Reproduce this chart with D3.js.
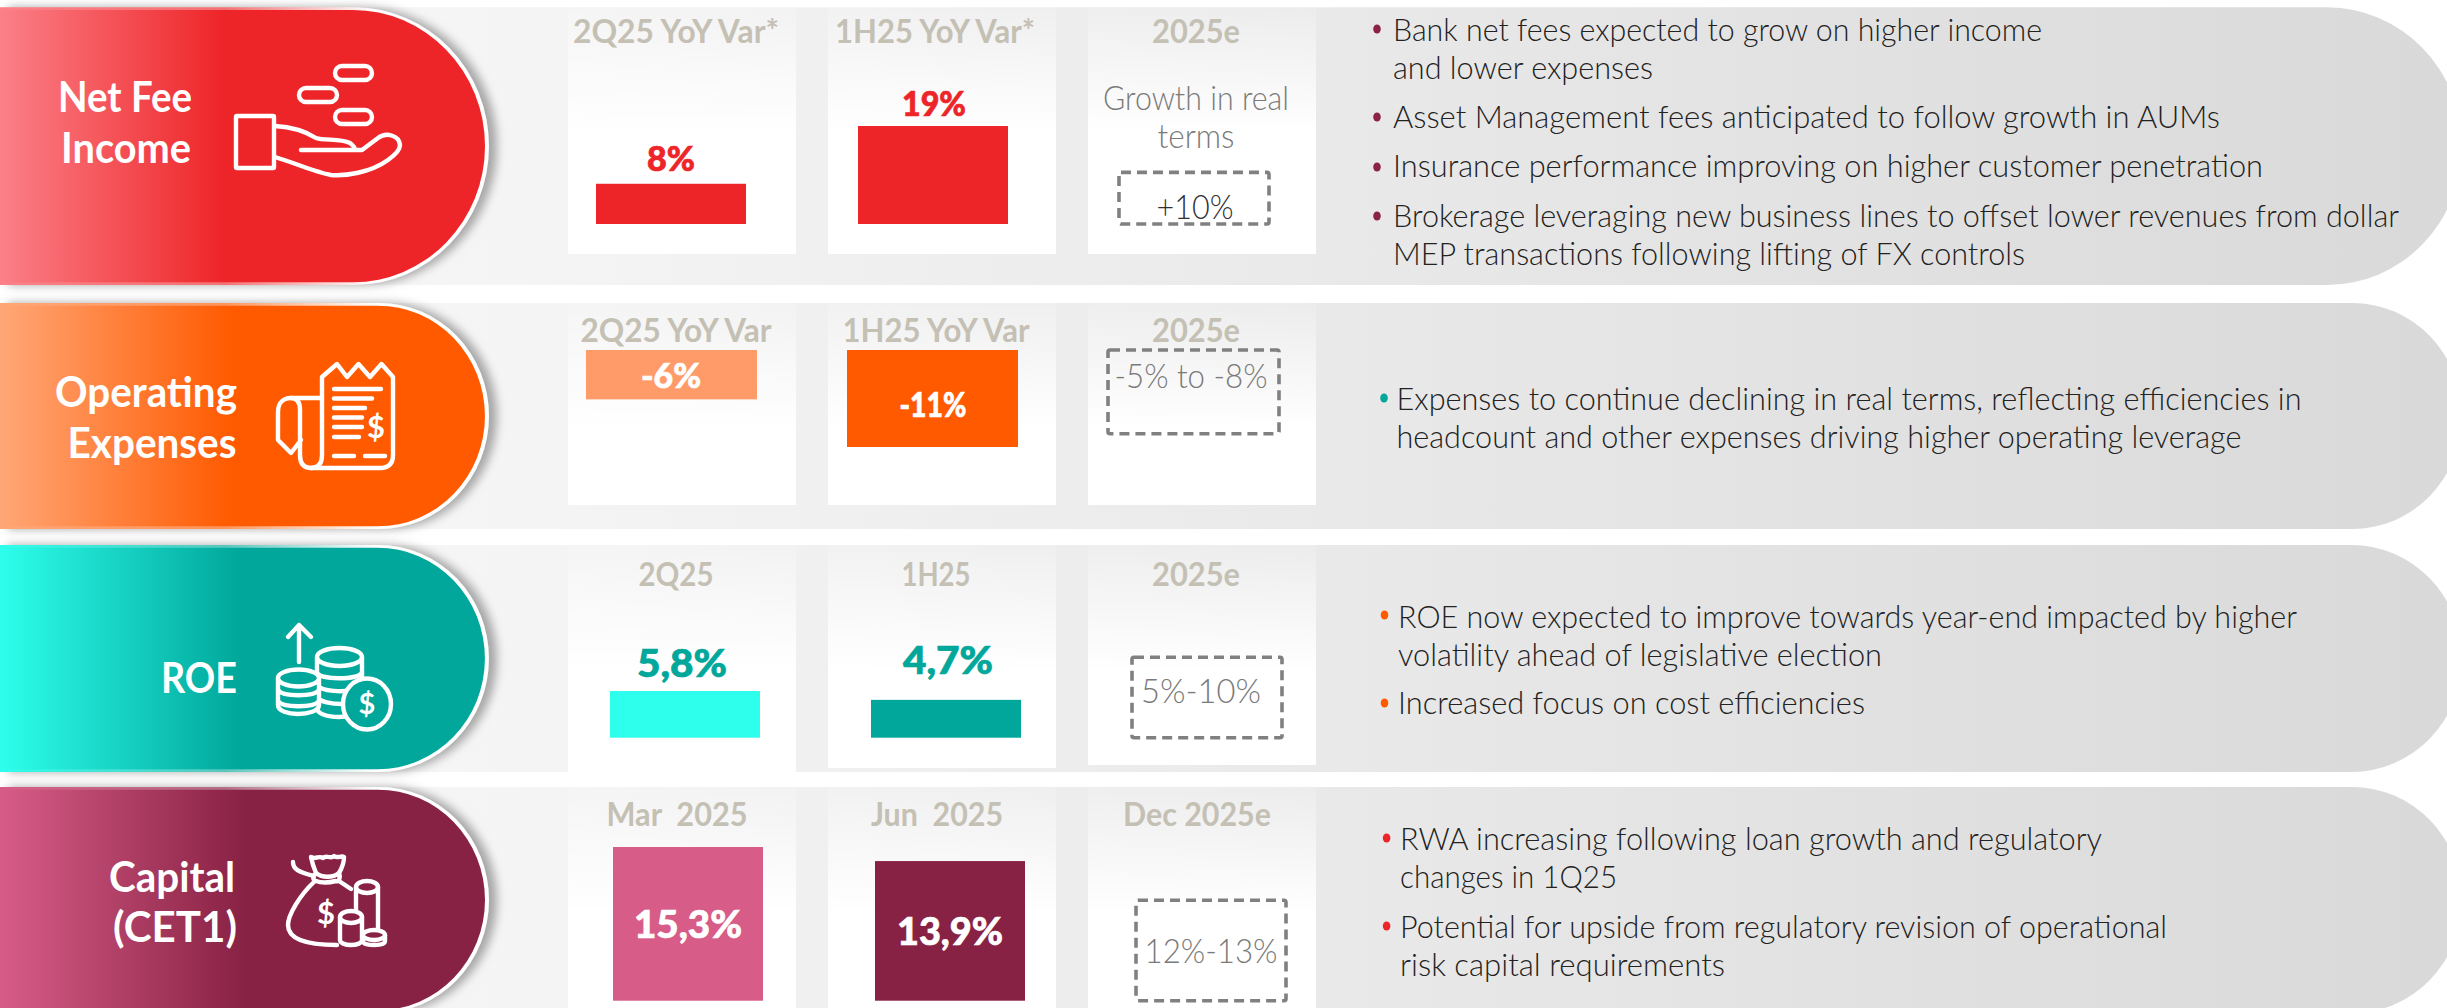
<!DOCTYPE html>
<html>
<head>
    <title>Guidance summary</title>
    <meta charset="utf-8">
    <script src="https://d3js.org/d3.v7.min.js"></script>
    <style>
        html, body { margin: 0; padding: 0; background: #fff; overflow: hidden; }
        svg { display: block; }
        text { white-space: pre; font-family: Lato, sans-serif; }
    </style>
</head>
<body>
    <div id="my_dataviz"></div>

    <script>
        // Values
        var rowNames = [["Net Fee", "Income"], ["Operating", "Expenses"], ["ROE"], ["Capital", "(CET1)"]];
        var colHeaders = [
            ["2Q25 YoY Var*", "1H25 YoY Var*", "2025e"],
            ["2Q25 YoY Var", "1H25 YoY Var", "2025e"],
            ["2Q25", "1H25", "2025e"],
            ["Mar  2025", "Jun  2025", "Dec 2025e"]
        ];
        var barValues = [[7.8, 19], [-5.6, -11], [5.8, 4.7], [15.3, 13.9]];
        var barLabels = [["8%", "19%"], ["-6%", "-11%"], ["5,8%", "4,7%"], ["15,3%", "13,9%"]];
        var targetValues = [10, -9.5, 10, 10];
        var targetLabels = ["+10%", "-5% to -8%", "5%-10%", "12%-13%"];
        var targetNote = ["Growth in real", "terms"];
        var bulletTexts = [
            [["Bank net fees expected to grow on higher income", "and lower expenses"],
             ["Asset Management fees anticipated to follow growth in AUMs"],
             ["Insurance performance improving on higher customer penetration"],
             ["Brokerage leveraging new business lines to offset lower revenues from dollar", "MEP transactions following lifting of FX controls"]],
            [["Expenses to continue declining in real terms, reflecting efficiencies in", "headcount and other expenses driving higher operating leverage"]],
            [["ROE now expected to improve towards year-end impacted by higher", "volatility ahead of legislative election"],
             ["Increased focus on cost efficiencies"]],
            [["RWA increasing following loan growth and regulatory", "changes in 1Q25"],
             ["Potential for upside from regulatory revision of operational", "risk capital requirements"]]
        ];

        // Layout
        var width = 2447, height = 1008;
        var rowTop = [7.3, 303, 545, 787];
        var rowBottom = [285, 529, 772, 1013];
        var cardBottom = [[254, 254, 254], [505, 505, 505], [772, 768, 765], [1013, 1013, 1013]];
        var scaleDomain = [[0, 19], [0, -11], [0, 5.8], [0, 15.3]];
        var scaleRange = [[224, 126], [350, 447], [737.7, 691], [1000.7, 847]];
        var barOffset = [[28, 30, 31], [18, 19, 20], [42, 43, 44], [45, 47, 48]];
        var barWidth = [150, 171, 150, 150];
        var mainColor = ["#ee2528", "#ff5a00", "#00a79a", "#882244"];
        var lightColor = ["#fb8088", "#ffa777", "#2efeec", "#d75c87"];
        var barColor = [["#ee2528", "#ee2528"], ["#ff9b68", "#ff5a00"], ["#2efeec", "#00a79a"], ["#d75c87", "#882244"]];
        var labelFill = ["#ee2528", "#ffffff", "#00a79a", "#ffffff"];
        var labelSize = [34, 34, 38, 38];
        var bulletColor = ["#8a2346", "#00a79a", "#ff5a00", "#ee2528"];
        var gradEnd = [224, 232, 240, 245];

        // text: [anchor x, baseline y, width]
        var nameSpec = [
            [[125, 112, 134], [126, 163, 130]],
            [[146, 407, 182], [152, 458, 169]],
            [[199, 693, 76]],
            [[172, 892, 126], [175, 942, 124]]
        ];
        var headerY = [43, 342, 586, 826];
        var headerX = [[676, 935, 1196], [676, 936, 1196], [676, 936, 1196], [677, 937, 1197]];
        var headerW = [[206, 200, 88], [191, 187, 88], [75, 69, 88], [141, 132, 148]];
        var labelSpec = [
            [[671, 171, 48], [934, 116, 64]],
            [[671, 388, 60], [933, 417, 67]],
            [[682, 677, 90], [948, 674, 90]],
            [[688, 938, 108], [950, 945, 106]]
        ];
        var targetSpec = [[1195, 219, 77], [1191, 388, 153], [1201, 703, 120], [1211, 963, 133]];
        var noteSpec = [[1196, 110, 186], [1196, 148, 77]];
        var bulletX = [1377, 1384, 1384.5, 1386.6];
        var textX = [1393, 1396.5, 1398, 1400];
        var bulletY = [[29, 117, 167, 216], [398], [615, 703], [838, 926]];
        var lineY = [[[41, 79], [128], [177], [227, 265]], [[410, 448]], [[628, 666], [714]], [[850, 888], [938, 976]]];
        var lineW = [[[649, 260], [827], [870], [1006, 632]], [[905, 845]], [[899, 484], [467]], [[702, 217], [767, 325]]];

        var columns = d3.scaleBand().domain([0, 1, 2]).range([568, 1316]).paddingInner(32 / 260).paddingOuter(0);
        var yScales = scaleDomain.map(function(d, i) { return d3.scaleLinear().domain(d).range(scaleRange[i]); });

        var svg = d3.select("#my_dataviz").append("svg").attr("width", width).attr("height", height);
        var defs = svg.append("defs");

        var bandGrad = defs.append("linearGradient").attr("id", "bandGrad")
            .attr("gradientUnits", "userSpaceOnUse").attr("x1", 400).attr("x2", 2447).attr("y1", 0).attr("y2", 0);
        bandGrad.append("stop").attr("offset", 0).attr("stop-color", "#f6f6f6");
        bandGrad.append("stop").attr("offset", 0.46).attr("stop-color", "#e9e9e9");
        bandGrad.append("stop").attr("offset", 1).attr("stop-color", "#d9d9d9");

        var shadow = defs.append("filter").attr("id", "pillShadow")
            .attr("filterUnits", "userSpaceOnUse").attr("x", -20).attr("y", -20).attr("width", 620).attr("height", 1100);
        shadow.append("feDropShadow").attr("dx", 8).attr("dy", 0).attr("stdDeviation", 5)
            .attr("flood-color", "#8c8c8c").attr("flood-opacity", 0.75);

        rowTop.forEach(function(top, i) {
            var g = defs.append("linearGradient").attr("id", "pill" + i)
                .attr("gradientUnits", "userSpaceOnUse").attr("x1", 0).attr("x2", gradEnd[i]).attr("y1", 0).attr("y2", 0);
            g.append("stop").attr("offset", 0).attr("stop-color", lightColor[i]);
            g.append("stop").attr("offset", 1).attr("stop-color", mainColor[i]);
            var o = defs.append("linearGradient").attr("id", "edge" + i)
                .attr("gradientUnits", "userSpaceOnUse").attr("x1", 0).attr("x2", 375).attr("y1", 0).attr("y2", 0);
            o.append("stop").attr("offset", 0).attr("stop-color", lightColor[i]);
            o.append("stop").attr("offset", 0.6).attr("stop-color", d3.interpolateRgb(mainColor[i], "#fff")(0.35));
            o.append("stop").attr("offset", 1).attr("stop-color", "#ffffff");
            var c = defs.append("linearGradient").attr("id", "card" + i)
                .attr("gradientUnits", "userSpaceOnUse").attr("x1", 0).attr("x2", 0).attr("y1", top).attr("y2", top + 125);
            c.append("stop").attr("offset", 0).attr("stop-color", "#fff").attr("stop-opacity", 0.12);
            c.append("stop").attr("offset", 1).attr("stop-color", "#fff").attr("stop-opacity", 1);
        });

        // pill with an elliptical right end, x0 is the left edge
        function capsule(x0, right, top, bottom) {
            var ry = (bottom - top) / 2, rx = ry * 0.97;
            return "M" + x0 + "," + top + "H" + (right - rx) + "A" + rx + "," + ry + " 0 0 1 " + (right - rx) + "," + bottom + "H" + x0 + "Z";
        }

        function addText(parent, str, spec, size, weight, fill, anchor) {
            return parent.append("text")
                .attr("x", spec[0]).attr("y", spec[1])
                .attr("text-anchor", anchor || "middle")
                .attr("textLength", spec[2]).attr("lengthAdjust", "spacingAndGlyphs")
                .attr("font-size", size).attr("font-weight", weight).attr("fill", fill)
                .text(str);
        }

        rowNames.forEach(function(name, r) {
            var row = svg.append("g").attr("class", "row");
            var y = yScales[r];

            // grey band
            row.append("path").attr("d", capsule(0, 2462, rowTop[r], rowBottom[r])).attr("fill", "url(#bandGrad)");

            // white cards
            row.selectAll(".card").data([0, 1, 2]).enter().append("rect").attr("class", "card")
                .attr("x", function(c) { return columns(c); })
                .attr("y", rowTop[r])
                .attr("width", columns.bandwidth())
                .attr("height", function(c) { return cardBottom[r][c] - rowTop[r]; })
                .attr("fill", "url(#card" + r + ")");

            // left pill
            row.append("path").attr("d", capsule(0, 489, rowTop[r], rowBottom[r]))
                .attr("fill", "url(#edge" + r + ")").attr("filter", "url(#pillShadow)");
            row.append("path").attr("d", capsule(0, 485, rowTop[r] + 2.7, rowBottom[r] - 2.7))
                .attr("fill", "url(#pill" + r + ")");

            name.forEach(function(line, k) {
                addText(row, line, nameSpec[r][k], 42, 700, "#fff");
            });

            colHeaders[r].forEach(function(h, c) {
                addText(row, h, [headerX[r][c], headerY[r], headerW[r][c]], 32, 700, "#c4c0b4");
            });

            // bars
            row.selectAll(".bar").data(barValues[r]).enter().append("rect").attr("class", "bar")
                .attr("x", function(d, c) { return columns(c) + barOffset[r][c]; })
                .attr("y", function(d) { return Math.min(y(0), y(d)); })
                .attr("width", barWidth[r])
                .attr("height", function(d) { return Math.abs(y(d) - y(0)); })
                .attr("fill", function(d, c) { return barColor[r][c]; });

            barLabels[r].forEach(function(l, c) {
                addText(row, l, labelSpec[r][c], labelSize[r], 900, labelFill[r])
                    .attr("stroke", labelFill[r]).attr("stroke-width", 0.7);
            });

            // dashed target box
            var t0 = y(0), t1 = y(targetValues[r]);
            row.append("rect")
                .attr("x", columns(2) + barOffset[r][2])
                .attr("y", Math.min(t0, t1))
                .attr("width", barWidth[r])
                .attr("height", Math.abs(t1 - t0))
                .attr("rx", 2)
                .attr("fill", "none")
                .attr("stroke", "#808080")
                .attr("stroke-width", 3.6)
                .attr("stroke-dasharray", "10 6");

            addText(row, targetLabels[r], targetSpec[r], 34, 300, r == 0 ? "#303030" : "#7a7a7a");

            // bullets
            bulletTexts[r].forEach(function(lines, b) {
                row.append("ellipse")
                    .attr("cx", bulletX[r]).attr("cy", bulletY[r][b])
                    .attr("rx", 3.8).attr("ry", 4.5)
                    .attr("fill", bulletColor[r]);
                lines.forEach(function(line, k) {
                    addText(row, line, [textX[r], lineY[r][b][k], lineW[r][b][k]], 32, 300, "#222", "start");
                });
            });
        });

        targetNote.forEach(function(line, k) {
            addText(svg, line, noteSpec[k], 34, 300, "#7a7a7a");
        });

        // icons, white line drawings
        var icons = svg.append("g").attr("fill", "none").attr("stroke", "#fff").attr("stroke-width", 4.4)
            .attr("stroke-linecap", "round").attr("stroke-linejoin", "round");

        function ico(d) { return icons.append("path").attr("d", d); }
        function pad(x, y, w, h, r, fill) {
            return icons.append("rect").attr("x", x).attr("y", y).attr("width", w).attr("height", h).attr("rx", r).attr("fill", fill || "none");
        }
        function oval(cx, cy, rx, ry, fill) {
            return icons.append("ellipse").attr("cx", cx).attr("cy", cy).attr("rx", rx).attr("ry", ry).attr("fill", fill || "none");
        }
        function dollar(x, y, size) {
            icons.append("text").attr("x", x).attr("y", y).attr("text-anchor", "middle")
                .attr("font-size", size).attr("font-weight", 700).attr("fill", "#fff").attr("stroke", "none").text("$");
        }

        // hand and coins
        pad(335, 66, 37, 14, 7);
        pad(299, 88, 38, 14, 7);
        pad(335, 110, 37, 14, 7);
        pad(236, 116, 38, 52, 1);
        ico("M275,126C292,127 305,131 316,138C325,141 340,138 350,143C354,146 355,148 355,150M301,150H362L378,138C386,132 399,135 400,145C400,150 395,155 388,160C370,173 345,176 331,175C315,172 295,163 275,157");

        // receipt
        ico("M322,398V377L337,364L347,377L358.5,364L370,377L381.5,364L393,377V455Q393,468 380,468H311Q300,468 300,455V410Q300,398 291,398C284,398 278,402 278,412V440L291,453L301,440");
        ico("M291,398H322V455Q322,468 311,468");
        [[334, 381, 389], [334, 372, 398.5], [334, 365, 408], [334, 362, 417.5], [334, 362, 427], [334, 359, 437], [334, 354, 456], [365, 385, 456]].forEach(function(l) {
            ico("M" + l[0] + "," + l[2] + "H" + l[1]);
        });
        dollar(376, 438, 31);

        // coin stacks with arrow
        ico("M299,662V625M288,637L299,625L311,637");
        ico("M317,657V708C317,714 328,717 339,717C350,717 362,714 362,708V657");
        oval(339.5, 657, 22.5, 9, mainColor[2]);
        ico("M317,673C322,680 356,680 362,673M317,685C322,692 345,692 350,690M317,697C320,702 332,704 342,704");
        ico("M278,678V705C278,711 288,714 298,714C308,714 319,711 319,705V678").attr("fill", mainColor[2]);
        oval(298.5, 678, 20.5, 8.5, mainColor[2]);
        ico("M278,690C283,697 314,697 319,690M278,701C283,708 314,708 319,701");
        oval(367, 704, 24, 25.5, mainColor[2]);
        dollar(367, 714, 29);

        // money bag
        ico("M316,873C313,866 312,862 311,857C316,860 319,855 323,858C327,854 330,860 334,856C338,859 341,855 344,857C344,862 342,868 339,873");
        ico("M316,873C322,878 333,878 339,873C341,877 339,882 336,881C328,883 321,883 316,881C312,880 313,876 316,873");
        ico("M293,862C293,869 298,872 314,876M314,882C300,895 288,915 288,925C288,937 300,945 337,945M339,881L351,889");
        dollar(326, 924, 31);
        ico("M356,887V926M378,887V930");
        oval(367, 887, 11, 6);
        ico("M340,917V940C340,943 345,945 351,945C357,945 362,943 362,940V917").attr("fill", mainColor[3]);
        oval(351, 917, 11, 6, mainColor[3]);
        ico("M363,935V941C363,944 368,945 374,945C380,945 385,944 385,941V935").attr("fill", mainColor[3]);
        oval(374, 935, 11, 5, mainColor[3]);
    </script>
</body>
</html>
